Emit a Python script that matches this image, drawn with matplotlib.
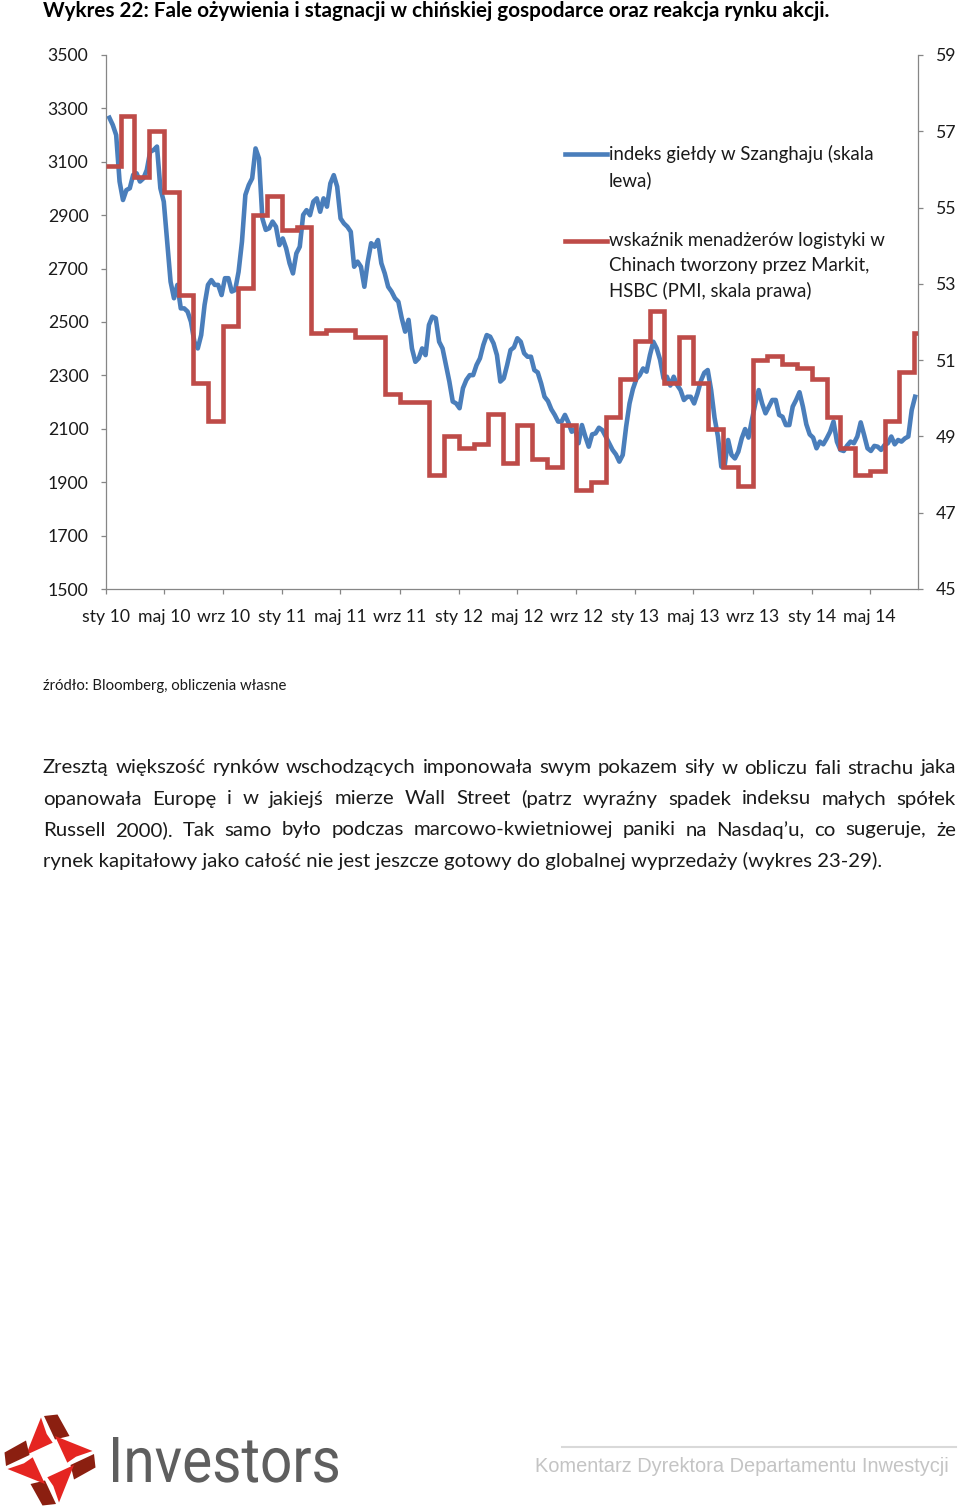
import numpy as np
import pandas as pd
import matplotlib
matplotlib.use('Agg')
import matplotlib.pyplot as plt
import matplotlib.dates as mdates
from matplotlib.lines import Line2D
from matplotlib.patches import Polygon, PathPatch
from matplotlib.textpath import TextPath
from matplotlib.font_manager import FontProperties
from matplotlib.transforms import Affine2D

plt.rcParams['font.family'] = ['Lato', 'DejaVu Sans']

# Shanghai composite, roughly weekly closes (left scale)
shanghai = [
    3265, 3238, 3200, 3026, 2957, 2994, 3001, 3051, 3057, 3026,
    3038, 3069, 3138, 3144, 3157, 3001, 2951, 2801, 2651, 2589,
    2639, 2551, 2551, 2539, 2501, 2426, 2401, 2451, 2564, 2639,
    2657, 2639, 2639, 2601, 2664, 2664, 2614, 2620, 2688, 2801,
    2976, 3013, 3038, 3150, 3113, 2888, 2845, 2851, 2876, 2857,
    2788, 2813, 2776, 2720, 2682, 2757, 2782, 2901, 2919, 2900,
    2951, 2963, 2913, 2963, 2932, 3019, 3050, 3007, 2888, 2869,
    2857, 2838, 2707, 2726, 2707, 2632, 2726, 2795, 2782, 2807,
    2720, 2682, 2632, 2614, 2589, 2576, 2514, 2464, 2508, 2401,
    2351, 2364, 2401, 2376, 2489, 2520, 2514, 2426, 2401, 2339,
    2277, 2202, 2195, 2177, 2252, 2283, 2301, 2301, 2339, 2364,
    2414, 2451, 2445, 2420, 2376, 2277, 2289, 2339, 2395, 2405,
    2439, 2426, 2383, 2370, 2370, 2320, 2311, 2270, 2220, 2204,
    2173, 2152, 2127, 2127, 2152, 2124, 2089, 2099, 2046, 2114,
    2071, 2033, 2079, 2083, 2104, 2095, 2071, 2046, 2021, 2004,
    1977, 2002, 2108, 2195, 2249, 2286, 2301, 2326, 2314, 2376,
    2426, 2401, 2358, 2289, 2295, 2262, 2295, 2264, 2245, 2208,
    2220, 2220, 2195, 2233, 2280, 2310, 2320, 2245, 2142, 2071,
    1958, 1964, 2058, 2002, 1989, 2014, 2064, 2099, 2067, 2133,
    2195, 2245, 2195, 2158, 2183, 2208, 2208, 2152, 2145, 2114,
    2114, 2183, 2208, 2237, 2183, 2117, 2079, 2067, 2027, 2052,
    2042, 2064, 2089, 2127, 2052, 2021, 2017, 2037, 2052, 2046,
    2071, 2124, 2077, 2027, 2017, 2036, 2033, 2021, 2039, 2046,
    2071, 2042, 2058, 2052, 2064, 2071, 2170, 2220,
]
shanghai_first, shanghai_last = '2010-01-08', '2014-08-03'

# HSBC/Markit PMI, value shown in each month (right scale)
pmi = [
    56.1, 57.4, 55.8, 57.0, 55.4, 52.7, 50.4, 49.4, 51.9, 52.9, 54.8, 55.3,
    54.4, 54.5, 51.7, 51.8, 51.8, 51.6, 51.6, 50.1, 49.9, 49.9, 48.0, 49.0,
    48.7, 48.8, 49.6, 48.3, 49.3, 48.4, 48.2, 49.3, 47.6, 47.8, 49.5, 50.5,
    51.5, 52.3, 50.4, 51.6, 50.4, 49.2, 48.2, 47.7, 51.0, 51.1, 50.9, 50.8,
    50.5, 49.5, 48.7, 48.0, 48.1, 49.4, 50.7, 51.7,
]
pmi_first = '2010-01-01'
x_start, x_end = '2010-01-01', '2014-08-09'

months_pl = ['sty', 'lut', 'mar', 'kwi', 'maj', 'cze',
             'lip', 'sie', 'wrz', 'paź', 'lis', 'gru']

label_blue = 'indeks giełdy w Szanghaju (skala\nlewa)'
label_red = ('wskaźnik menadżerów logistyki w\nChinach tworzony przez Markit,\n'
             'HSBC (PMI, skala prawa)')

title = ('Wykres 22: Fale ożywienia i stagnacji w chińskiej gospodarce '
         'oraz reakcja rynku akcji.')
source = 'źródło: Bloomberg, obliczenia własne'
paragraph = [
    'Zresztą większość rynków wschodzących imponowała swym pokazem siły w obliczu fali strachu jaka',
    'opanowała Europę i w jakiejś mierze Wall Street (patrz wyraźny spadek indeksu małych spółek',
    'Russell 2000). Tak samo było podczas marcowo-kwietniowej paniki na Nasdaq’u, co sugeruje, że',
    'rynek kapitałowy jako całość nie jest jeszcze gotowy do globalnej wyprzedaży (wykres 23-29).',
]
footer = 'Komentarz Dyrektora Departamentu Inwestycji'

BLUE = '#4a7ebb'
RED = '#be4b48'
AXC = '#868686'
TXT = '#1a1a1a'
W, H = 960, 1509
LW = 3.3

fig = plt.figure(figsize=(W / 100, H / 100), dpi=100)
renderer = fig.canvas.get_renderer()

# chart
ax = fig.add_axes([106 / W, 1 - 589 / H, 812 / W, 534 / H])
dates = pd.date_range(shanghai_first, shanghai_last, periods=len(shanghai))
ax.plot(dates, shanghai, color=BLUE, lw=LW, solid_joinstyle='round')
ax.set_ylim(1500, 3500)
ax.set_yticks(range(1500, 3501, 200))
ax.set_xlim(pd.Timestamp(x_start), pd.Timestamp(x_end))

ticks = pd.date_range('2010-01-01', '2014-05-01', freq='4MS')
ax.set_xticks(ticks)
ax.set_xticklabels([f'{months_pl[d.month - 1]} {d:%y}' for d in ticks])

ax2 = ax.twinx()
months = pd.date_range(pmi_first, periods=len(pmi), freq='MS')
edges = np.append(mdates.date2num(months.to_pydatetime()),
                  mdates.date2num(pd.Timestamp(x_end).to_pydatetime()))
ax2.stairs(pmi, edges, baseline=None, color=RED, lw=LW)
ax2.set_ylim(45, 59)
ax2.set_yticks(range(45, 60, 2))
ax.set_xlim(pd.Timestamp(x_start), pd.Timestamp(x_end))

fs = 12.7
for a in (ax, ax2):
    for s in a.spines.values():
        s.set_color(AXC)
        s.set_linewidth(0.9)
    a.spines['top'].set_visible(False)
    a.tick_params(direction='out', length=3.6, width=0.9, color=AXC,
                  pad=9, labelsize=fs, labelcolor=TXT)
ax.spines['right'].set_visible(False)
ax2.spines['left'].set_visible(False)
ax2.spines['bottom'].set_visible(False)
ax.tick_params(axis='x', pad=11)

# page overlay, coordinates in pixels
page = fig.add_axes([0, 0, 1, 1], zorder=5)
page.set_xlim(0, W)
page.set_ylim(H, 0)
page.set_facecolor('none')
page.axis('off')

# legend
lfs = 13.4
page.add_line(Line2D([565, 607], [154, 154], color=BLUE, lw=LW))
page.text(609, 167, label_blue, fontsize=lfs, color=TXT, va='center',
          linespacing=1.55)
page.add_line(Line2D([565, 607], [241, 241], color=RED, lw=LW))
page.text(609, 266, label_red, fontsize=lfs, color=TXT, va='center',
          linespacing=1.55)


def fit_width(t, width):
    w = t.get_window_extent(renderer).width
    t.set_fontsize(t.get_fontsize() * width / w)


t = page.text(43, 11, title, fontsize=13, fontweight='bold', color='black',
              va='center')
fit_width(t, 785)

t = page.text(43, 686, source, fontsize=10, color=TXT, va='center')
fit_width(t, 244)

# paragraph, justified
last = page.text(43, 861, paragraph[-1], fontsize=13, color=TXT, va='center')
fit_width(last, 838)
pfs = last.get_fontsize()
for i, line in enumerate(paragraph[:-1]):
    y = 768 + 31 * i
    words = [page.text(0, y, w, fontsize=pfs, color=TXT, va='center')
             for w in line.split()]
    widths = [w.get_window_extent(renderer).width for w in words]
    gap = (956 - 43 - sum(widths)) / (len(words) - 1)
    x = 43
    for w, wd in zip(words, widths):
        w.set_x(x)
        x += wd + gap

# footer
page.add_line(Line2D([562, 956], [1447, 1447], color='#d9d9d9', lw=1.5))
t = page.text(535, 1467, footer, fontsize=14, color='#c4c4c4', va='center',
              family='Liberation Sans')
fit_width(t, 416)

tp = TextPath((0, 0), 'Investors', size=100, prop=FontProperties(family='Roboto'))
bb = tp.get_extents()
tr = (Affine2D().translate(-bb.x0, 0)
      .scale(225 / bb.width, -45 / bb.y1).translate(113, 1482))
page.add_patch(PathPatch(tr.transform_path(tp), color='#5e5e5e', lw=0))

# logo, four-fold star
cx, cy = 50, 1460
red_piece = [(26, 1455), (41, 1417.5), (46.7, 1434), (52.7, 1442.7)]
dark_piece = [(44, 1416), (57.5, 1414.5), (69.5, 1436), (55, 1439.5)]
for k in range(4):
    for pts, col in ((red_piece, '#e52521'), (dark_piece, '#8b1f10')):
        p = np.array(pts, dtype=float)
        for _ in range(k):
            dx, dy = p[:, 0] - cx, p[:, 1] - cy
            p = np.column_stack([cx - dy, cy + dx])
        page.add_patch(Polygon(p, closed=True, color=col, lw=0))

fig.savefig('out.png', dpi=100, facecolor='white')
